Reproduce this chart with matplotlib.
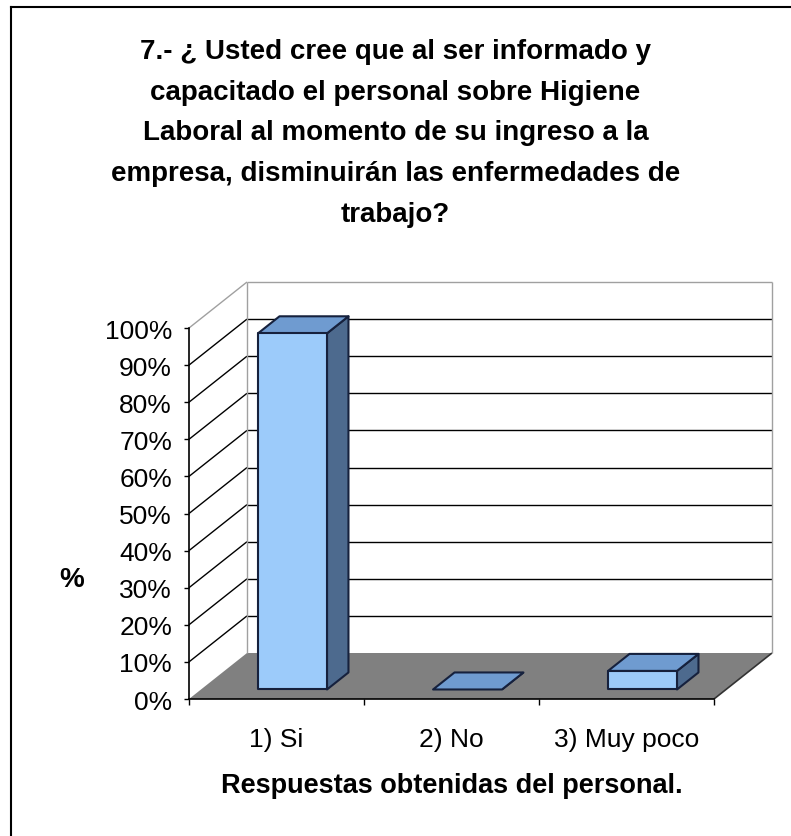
import matplotlib
matplotlib.use("Agg")
import matplotlib.pyplot as plt
from matplotlib.patches import Polygon
from matplotlib.lines import Line2D

plt.rcParams['font.family'] = ['Liberation Sans', 'DejaVu Sans']

# data
title_lines = [
    "7.- ¿ Usted cree que al ser informado y",
    "capacitado el personal sobre Higiene",
    "Laboral al momento de su ingreso a la",
    "empresa, disminuirán las enfermedades de",
    "trabajo?",
]
categories = ["1) Si", "2) No", "3) Muy poco"]
values = [96, 0, 5]
yticks = list(range(0, 101, 10))
xlabel = "Respuestas obtenidas del personal."
ylabel = "%"

W, H = 791, 837
fig = plt.figure(figsize=(W / 100, H / 100), dpi=100)
fig.patch.set_facecolor("white")

# front plane of the plot: x 189..714 px, y 700..329 px
ax = fig.add_axes([189 / W, 1 - 700 / H, 525 / W, 371 / H])
ax.set_xlim(0, 3)
ax.set_ylim(0, 100)
ax.set_facecolor("none")

# oblique depth offset in data units
DX = 58 / 175
DY = 46 / 3.71


def P(x, y, d):
    return (x + d * DX, y + d * DY)


def poly(pts, fc, ec="none", lw=0, z=1):
    p = Polygon(pts, closed=True, facecolor=fc, edgecolor=ec, linewidth=lw,
                zorder=z, clip_on=False, joinstyle="round")
    ax.add_patch(p)


def seg(a, b, color="black", lw=1.0, z=2):
    ax.plot([a[0], b[0]], [a[1], b[1]], color=color, lw=lw, zorder=z,
            clip_on=False, solid_capstyle="butt")


# floor
poly([P(0, 0, 0), P(3, 0, 0), P(3, 0, 1), P(0, 0, 1)], "#808080", z=1)
seg(P(3, 0, 0), P(3, 0, 1), color="#333333", lw=1.2)

# back wall and side wall grid
for t in yticks[1:]:
    c = "#a0a0a0" if t == 100 else "black"
    seg(P(0, t, 1), P(3, t, 1), color=c, lw=1.0)
    seg(P(0, t, 0), P(0, t, 1), color=c, lw=1.0)
seg(P(0, 0, 1), P(0, 100, 1), color="#a0a0a0", lw=1.0)
seg(P(3, 0, 1), P(3, 100, 1), color="#a0a0a0", lw=1.0)

# bars
edge = "#16213d"
d0, d1 = 0.207, 0.577
for i, v in enumerate(values):
    x0, x1 = i + 0.326, i + 0.72
    poly([P(x1, 0, d0), P(x1, 0, d1), P(x1, v, d1), P(x1, v, d0)],
         "#4d6a8e", edge, 1.5, z=5)
    poly([P(x0, v, d0), P(x1, v, d0), P(x1, v, d1), P(x0, v, d1)],
         "#6f9bd0", edge, 1.5, z=5)
    if v > 0:
        poly([P(x0, 0, d0), P(x1, 0, d0), P(x1, v, d0), P(x0, v, d0)],
             "#9ccbfa", edge, 1.5, z=6)

# axes
for s in ["top", "right"]:
    ax.spines[s].set_visible(False)
for s in ["left", "bottom"]:
    ax.spines[s].set_linewidth(1.2)
    ax.spines[s].set_zorder(7)

ax.set_yticks(yticks)
ax.set_yticklabels([f"{t}%" for t in yticks])
ax.tick_params(axis="y", length=3.6, width=1.0, pad=8.6, labelsize=19)
ax.set_xticks([0, 1, 2, 3])
ax.set_xticklabels([])
ax.tick_params(axis="x", which="major", length=4.3, width=1.0)
ax.set_xticks([0.5, 1.5, 2.5], minor=True)
ax.set_xticklabels(categories, minor=True)
ax.tick_params(axis="x", which="minor", length=0, pad=20, labelsize=19)

# axis titles
fig.text(451.5 / W, 1 - 786 / H, xlabel, ha="center", va="center",
         fontsize=19.5, fontweight="bold")
fig.text(72 / W, 1 - 580 / H, ylabel, ha="center", va="center",
         fontsize=20, fontweight="bold")

# title
for k, line in enumerate(title_lines):
    fig.text(395.5 / W, 1 - (52 + 40.7 * k) / H, line, ha="center",
             va="center", fontsize=20, fontweight="bold")

# outer border (left and top visible)
fig.add_artist(Line2D([11 / W, 11 / W], [1 - 8 / H, 0], color="black", lw=1.5))
fig.add_artist(Line2D([11 / W, 1], [1 - 8 / H, 1 - 8 / H], color="black", lw=1.5))

fig.savefig("out.png", dpi=100)
